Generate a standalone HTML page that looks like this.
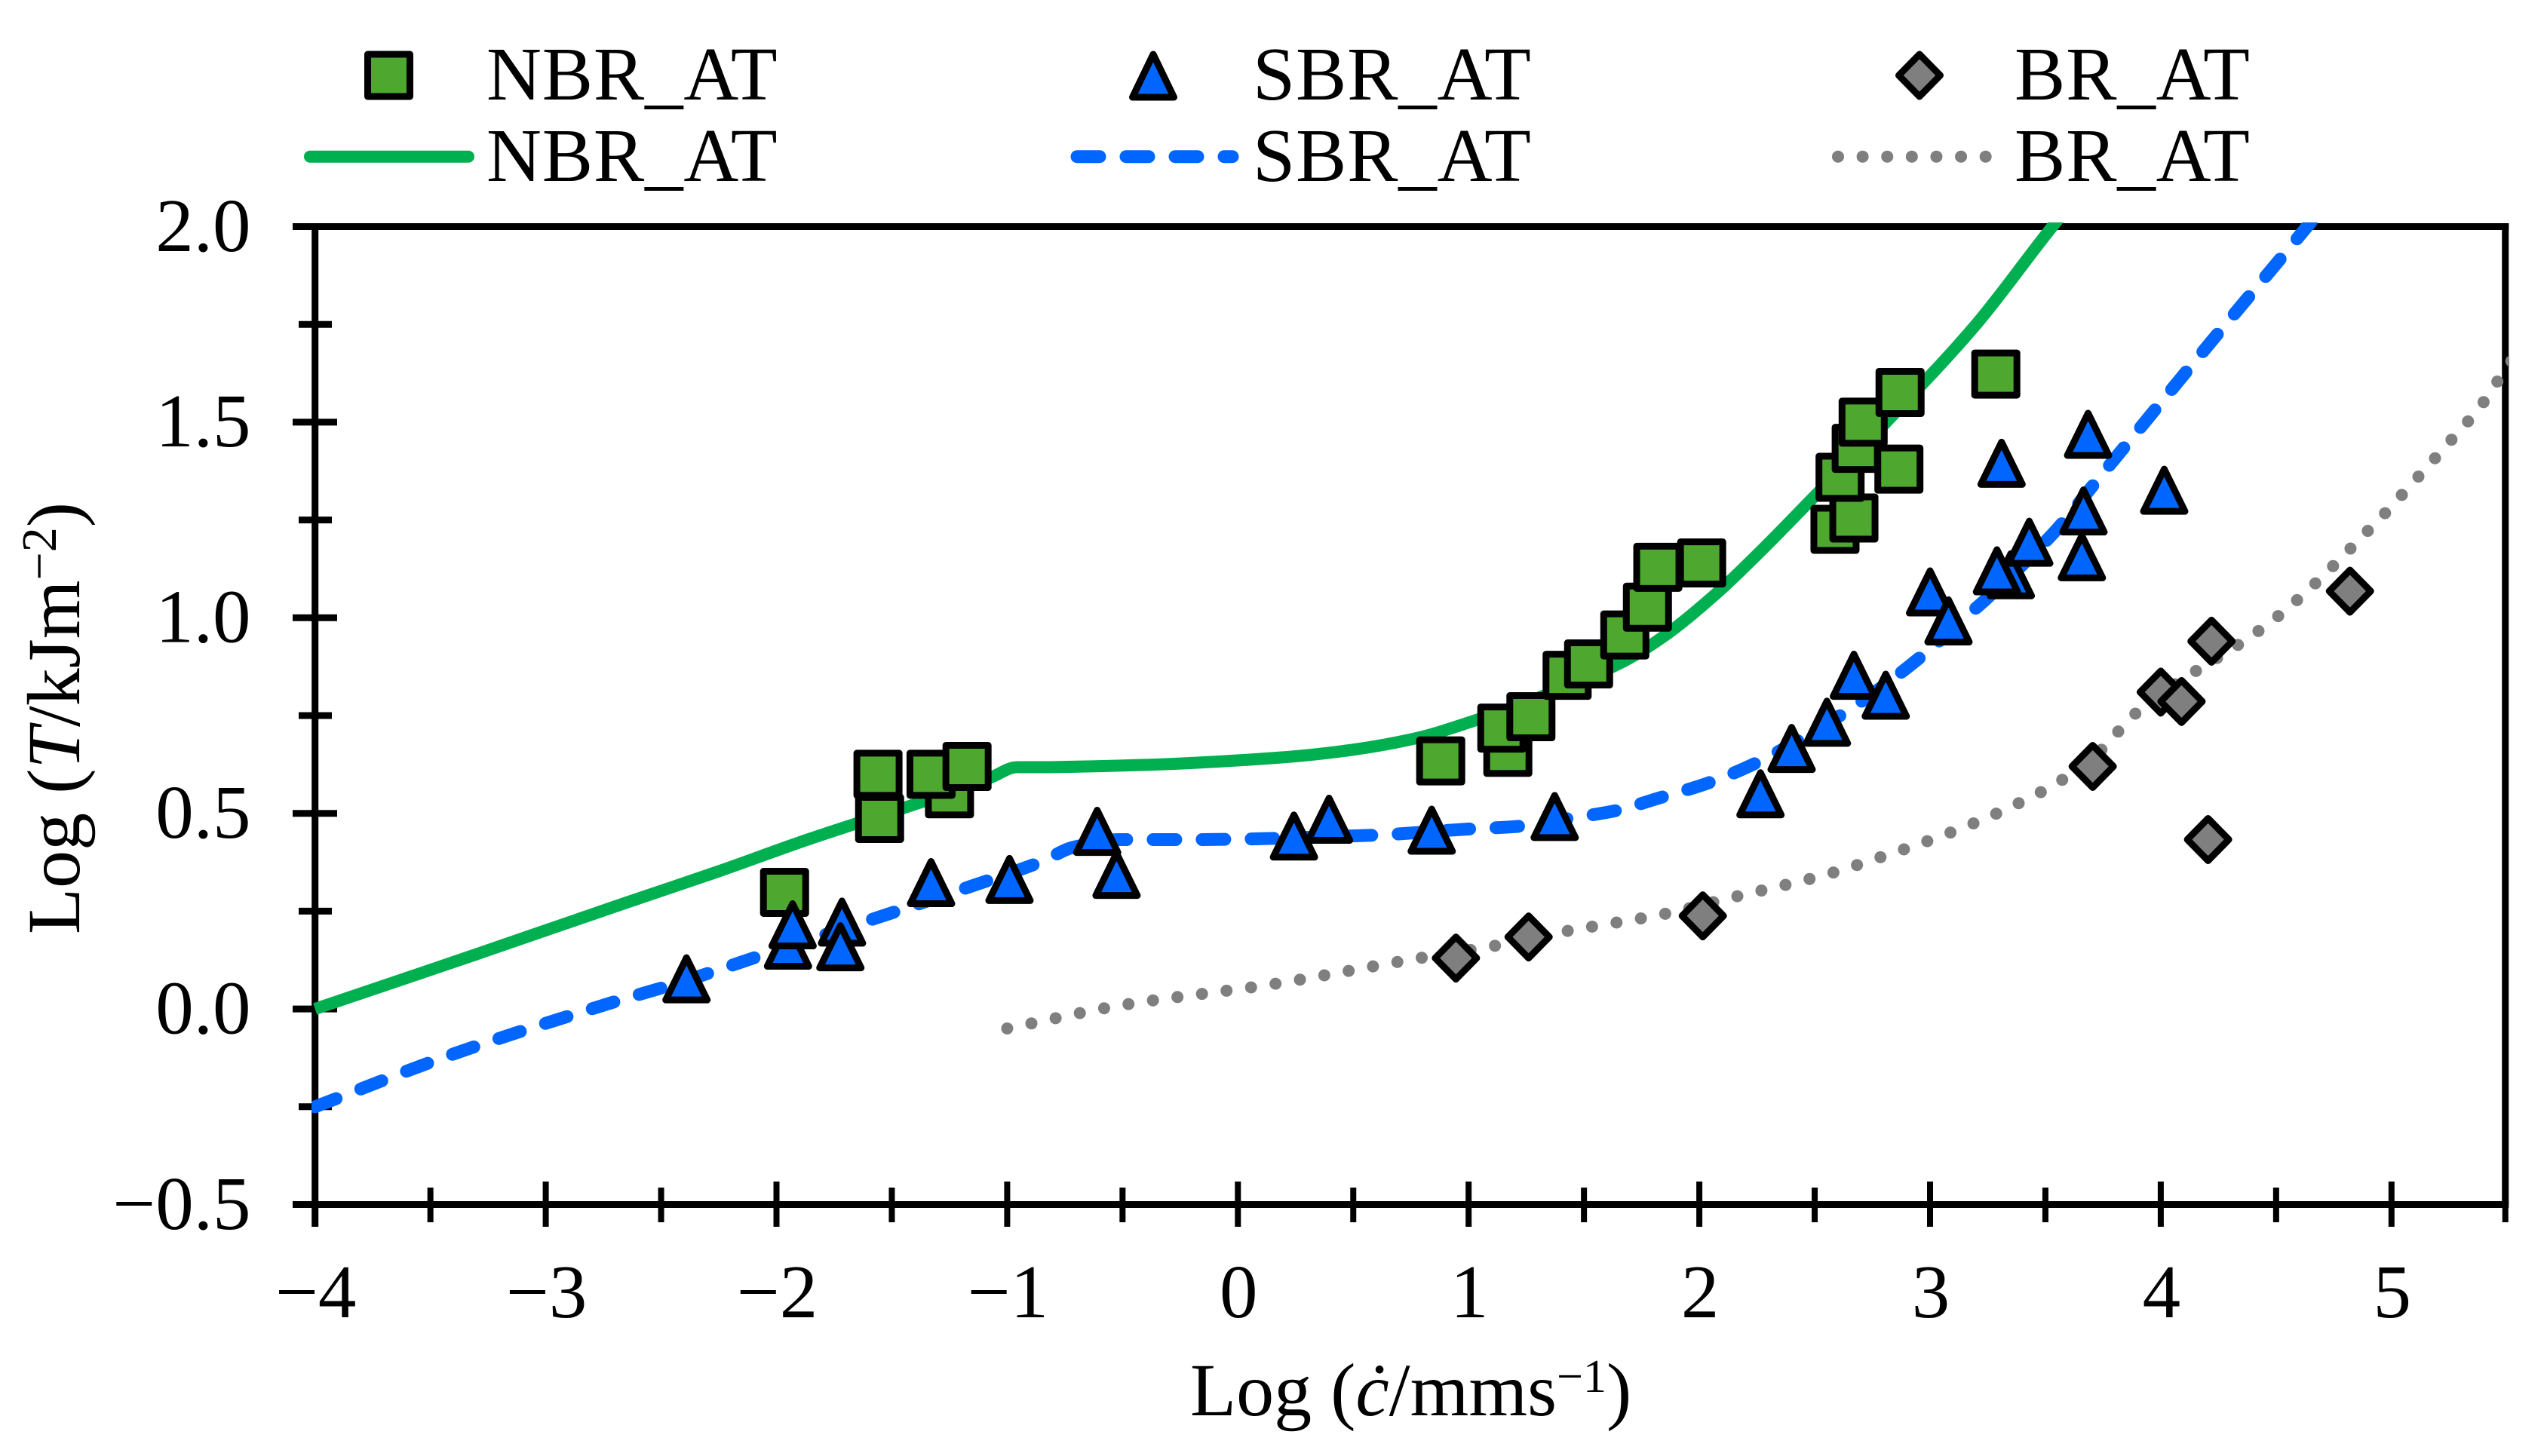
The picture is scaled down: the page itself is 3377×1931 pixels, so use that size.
<!DOCTYPE html>
<html lang="en">
<head>
<meta charset="utf-8">
<title>Log T versus Log c chart</title>
<style>
html,body{margin:0;padding:0;background:#fff;}
svg{display:block;font-family:"Liberation Serif",serif;fill:#000;}
text{font-size:101px;}
.legend-text{letter-spacing:0.8px;}
.axis-title{font-size:100px;}
</style>
</head>
<body>
<svg id="chart" xmlns="http://www.w3.org/2000/svg" width="3377" height="1931" viewBox="0 0 3377 1931">
  <defs>
    <clipPath id="plot-clip"><rect x="413" y="295" width="2914" height="1310"></rect></clipPath>
  </defs>
  <rect x="0" y="0" width="3377" height="1931" fill="#fff"></rect>
  <g id="axes"></g>
  <g id="series"></g>

  <g>
    <rect x="487.5" y="72" width="56" height="56" fill="#4EA72E" stroke="#000" stroke-width="9" stroke-linejoin="round"></rect>
    <text class="legend-text" x="645" y="132">NBR_AT</text>
    <path d="M1529 72L1556.5 129H1501.5Z" fill="#0066FF" stroke="#000" stroke-width="9" stroke-linejoin="round"></path>
    <text class="legend-text" x="1661" y="132">SBR_AT</text>
    <path d="M2545 72L2572.5 100L2545 128L2517.5 100Z" fill="#7F7F7F" stroke="#000" stroke-width="9" stroke-linejoin="round"></path>
    <text class="legend-text" x="2671" y="132">BR_AT</text>

    <line x1="411" y1="207.7" x2="621" y2="207.7" stroke="#00B050" stroke-width="16" stroke-linecap="round"></line>
    <text class="legend-text" x="645" y="240">NBR_AT</text>
    <line x1="1428" y1="207.7" x2="1634" y2="207.7" stroke="#0066FF" stroke-width="17" stroke-linecap="round" stroke-dasharray="30 35"></line>
    <text class="legend-text" x="1661" y="240">SBR_AT</text>
    <line x1="2437" y1="207.7" x2="2637" y2="207.7" stroke="#7F7F7F" stroke-width="16" stroke-linecap="round" stroke-dasharray="0.01 32.6"></line>
    <text class="legend-text" x="2671" y="240">BR_AT</text>
  </g>

  <text class="axis-title" x="1578" y="1877">Log (<tspan font-style="italic">ċ</tspan>/mms<tspan dy="-31" style="font-size:62px">−1</tspan><tspan dy="31">)</tspan></text>
  <text class="axis-title" transform="translate(105 1239) rotate(-90)" x="0" y="0">Log (<tspan font-style="italic">T</tspan>/kJm<tspan dy="-31" style="font-size:66px">−2</tspan><tspan dy="31">)</tspan></text>
</svg>

<script>
// ---- Axis values ----
const xMajorTicks = [-4, -3, -2, -1, 0, 1, 2, 3, 4, 5];
const xTickLabels = ['−4', '−3', '−2', '−1', '0', '1', '2', '3', '4', '5'];
const xMinorTicks = [-3.5, -2.5, -1.5, -0.5, 0.5, 1.5, 2.5, 3.5, 4.5, 5.5];
const yMajorTicks = [-0.5, 0, 0.5, 1, 1.5, 2];
const yTickLabels = ['−0.5', '0.0', '0.5', '1.0', '1.5', '2.0'];
const yMinorTicks = [-0.25, 0.25, 0.75, 1.25, 1.75];

// ---- Measured points ----
const nbrPointsX = [-1.965, -1.56, -1.553, -1.25, -1.33, -1.174, 0.879, 1.17, 1.144, 1.27, 1.427, 1.52, 1.677, 1.775, 2.01, 1.82, 2.588, 2.67, 2.61, 2.68, 2.71, 2.865, 2.87, 3.285];
const nbrPointsY = [0.298, 0.6, 0.487, 0.55, 0.6, 0.62, 0.634, 0.656, 0.718, 0.747, 0.853, 0.882, 0.956, 1.027, 1.14, 1.129, 1.226, 1.255, 1.359, 1.433, 1.5, 1.38, 1.576, 1.623];

const sbrPointsX = [-2.39, -1.95, -1.93, -1.716, -1.723, -1.33, -0.99, -0.526, -0.61, 0.243, 0.395, 0.84, 1.373, 2.265, 2.4, 2.553, 2.67, 2.808, 3.0, 3.08, 3.35, 3.29, 3.43, 3.658, 3.665, 3.31, 3.685, 4.015];
const sbrPointsY = [0.077, 0.163, 0.215, 0.222, 0.159, 0.323, 0.331, 0.344, 0.454, 0.442, 0.485, 0.457, 0.492, 0.55, 0.666, 0.733, 0.853, 0.802, 1.066, 0.992, 1.11, 1.12, 1.193, 1.156, 1.273, 1.395, 1.469, 1.326];

const brPointsX = [0.945, 1.26, 2.015, 3.705, 4.0, 4.09, 4.22, 4.205, 4.82];
const brPointsY = [0.13, 0.184, 0.238, 0.62, 0.81, 0.786, 0.94, 0.433, 1.068];

// ---- Fitted curves ----
const nbrCurveX = [-4, -3.3, -2.65, -2.25, -1.87, -1.65, -1.35, -1.07, -0.958, -0.88, -0.4, 0.19, 0.49, 0.765, 1.02, 1.3, 1.66, 1.84, 2.07, 2.257, 2.49, 2.81, 3.2, 3.53, 3.7];
const nbrCurveY = [0, 0.14, 0.272, 0.352, 0.432, 0.475, 0.533, 0.592, 0.618, 0.618, 0.624, 0.643, 0.662, 0.691, 0.736, 0.795, 0.885, 0.95, 1.06, 1.165, 1.305, 1.5, 1.75, 2.0, 2.12];

const sbrCurveX = [-4, -3.4, -2.72, -2.39, -2.07, -1.565, -1.16, -0.85, -0.715, -0.51, -0.215, 0.58, 0.997, 1.2, 1.455, 1.63, 1.83, 2.04, 2.236, 2.49, 2.66, 2.83, 3.0, 3.16, 3.24, 3.54, 3.75, 4.14, 4.62, 4.8];
const sbrCurveY = [-0.25, -0.115, 0.015, 0.073, 0.136, 0.233, 0.313, 0.377, 0.413, 0.433, 0.433, 0.444, 0.46, 0.466, 0.489, 0.506, 0.54, 0.578, 0.626, 0.707, 0.769, 0.84, 0.92, 1.005, 1.046, 1.22, 1.37, 1.65, 1.99, 2.12];

const brCurveX = [-1, -0.5, 0.147, 0.787, 1.1, 1.415, 1.84, 2.15, 2.565, 2.77, 2.97, 3.17, 3.37, 3.56, 3.72, 3.9, 4.5, 4.96, 5.1, 5.245, 5.385, 5.5, 5.6];
const brCurveY = [-0.05, 0.01, 0.063, 0.13, 0.16, 0.198, 0.242, 0.286, 0.346, 0.385, 0.425, 0.47, 0.522, 0.581, 0.65, 0.76, 1.0, 1.26, 1.35, 1.445, 1.54, 1.64, 1.72];

// ---- Axis functions ----
function xScale(v) { return 417.7 + (v + 4) * 305.9; }
function yScale(v) { return 300.5 + (2 - v) * 518.8; }

const NS = 'http://www.w3.org/2000/svg';
const axes = document.getElementById('axes');
const series = document.getElementById('series');

function make(tag, attrs, parent) {
  const el = document.createElementNS(NS, tag);
  for (const k in attrs) el.setAttribute(k, attrs[k]);
  parent.appendChild(el);
  return el;
}

// spines
const leftSpine = make('line', {x1: xScale(-4), y1: 296, x2: xScale(-4), y2: 1627, stroke: '#000', 'stroke-width': 9}, axes);


const rightSpine = make('line', {x1: xScale(5.5) - 2, y1: 296, x2: xScale(5.5) - 2, y2: 1597, stroke: '#000', 'stroke-width': 9}, axes);


const topSpine = make('line', {x1: 388, y1: yScale(2), x2: xScale(5.5) + 2.5, y2: yScale(2), stroke: '#000', 'stroke-width': 9}, axes);


const bottomSpine = make('line', {x1: 388, y1: yScale(-0.5), x2: xScale(5.5) + 2.5, y2: yScale(-0.5), stroke: '#000', 'stroke-width': 9}, axes);



// x ticks
xMajorTicks.forEach(function (v, i) {
  const t = make('line', {x1: xScale(v), x2: xScale(v), y1: 1567, y2: 1627, stroke: '#000', 'stroke-width': 8}, axes);
  
  
  const label = make('text', {x: xScale(v) + 1, y: 1747, 'text-anchor': 'middle'}, axes);
  label.textContent = xTickLabels[i];
  
  
});
xMinorTicks.forEach(function (v) {
  const t = make('line', {x1: xScale(v) - (v === 5.5 ? 2 : 0), x2: xScale(v) - (v === 5.5 ? 2 : 0), y1: 1575, y2: 1621, stroke: '#000', 'stroke-width': 8}, axes);
  
  
});

// y ticks
yMajorTicks.forEach(function (v, i) {
  const t = make('line', {x1: 388, x2: 447, y1: yScale(v), y2: yScale(v), stroke: '#000', 'stroke-width': 9}, axes);
  
  
  const label = make('text', {x: 332.5, y: yScale(v) + 32.3, 'text-anchor': 'end'}, axes);
  label.textContent = yTickLabels[i];
  
  
});
yMinorTicks.forEach(function (v) {
  const t = make('line', {x1: 396, x2: 440, y1: yScale(v), y2: yScale(v), stroke: '#000', 'stroke-width': 9}, axes);
  
  
});

// curves: monotone cubic through the read points, so kinks do not overshoot
function curvePath(xs, ys) {
  const px = xs.map(xScale);
  const py = ys.map(yScale);
  const n = px.length;
  const s = [];
  for (let i = 0; i < n - 1; i++) s.push((py[i + 1] - py[i]) / (px[i + 1] - px[i]));
  const m = [s[0]];
  for (let i = 1; i < n - 1; i++) {
    m.push(s[i - 1] * s[i] <= 0 ? 0 : 2 * s[i - 1] * s[i] / (s[i - 1] + s[i]));
  }
  m.push(s[n - 2]);
  let d = 'M' + px[0].toFixed(1) + ' ' + py[0].toFixed(1);
  for (let i = 0; i < n - 1; i++) {
    const h = (px[i + 1] - px[i]) / 3;
    d += 'C' + (px[i] + h).toFixed(1) + ' ' + (py[i] + m[i] * h).toFixed(1) + ' ' +
         (px[i + 1] - h).toFixed(1) + ' ' + (py[i + 1] - m[i + 1] * h).toFixed(1) + ' ' +
         px[i + 1].toFixed(1) + ' ' + py[i + 1].toFixed(1);
  }
  return d;
}
const curvesGroup = make('g', {'clip-path': 'url(#plot-clip)', fill: 'none'}, series);



const nbrLine = make('path', {d: curvePath(nbrCurveX, nbrCurveY), stroke: '#00B050', 'stroke-width': 16, 'stroke-linejoin': 'round'}, curvesGroup);


const sbrLine = make('path', {d: curvePath(sbrCurveX, sbrCurveY), stroke: '#0066FF', 'stroke-width': 17, 'stroke-linecap': 'round', 'stroke-linejoin': 'round', 'stroke-dasharray': '30 35'}, curvesGroup);


const brLine = make('path', {d: curvePath(brCurveX, brCurveY), stroke: '#7F7F7F', 'stroke-width': 16, 'stroke-linecap': 'round', 'stroke-linejoin': 'round', 'stroke-dasharray': '0.01 32.8'}, curvesGroup);



// markers
nbrPointsX.forEach(function (x, i) {
  const cx = xScale(x), cy = yScale(nbrPointsY[i]);
  const m = make('rect', {x: cx - 28, y: cy - 28, width: 56, height: 56, fill: '#4EA72E', stroke: '#000', 'stroke-width': 9, 'stroke-linejoin': 'round'}, series);
  
  
});
sbrPointsX.forEach(function (x, i) {
  const cx = xScale(x), cy = yScale(sbrPointsY[i]);
  const d = 'M' + cx + ' ' + (cy - 28) + 'L' + (cx + 27.5) + ' ' + (cy + 28) + 'L' + (cx - 27.5) + ' ' + (cy + 28) + 'Z';
  const m = make('path', {d: d, fill: '#0066FF', stroke: '#000', 'stroke-width': 9, 'stroke-linejoin': 'round'}, series);
  
  
});
brPointsX.forEach(function (x, i) {
  const cx = xScale(x), cy = yScale(brPointsY[i]);
  const d = 'M' + cx + ' ' + (cy - 28) + 'L' + (cx + 27.5) + ' ' + cy + 'L' + cx + ' ' + (cy + 28) + 'L' + (cx - 27.5) + ' ' + cy + 'Z';
  const m = make('path', {d: d, fill: '#7F7F7F', stroke: '#000', 'stroke-width': 9, 'stroke-linejoin': 'round'}, series);
  
  
});
</script>
</body>
</html>
